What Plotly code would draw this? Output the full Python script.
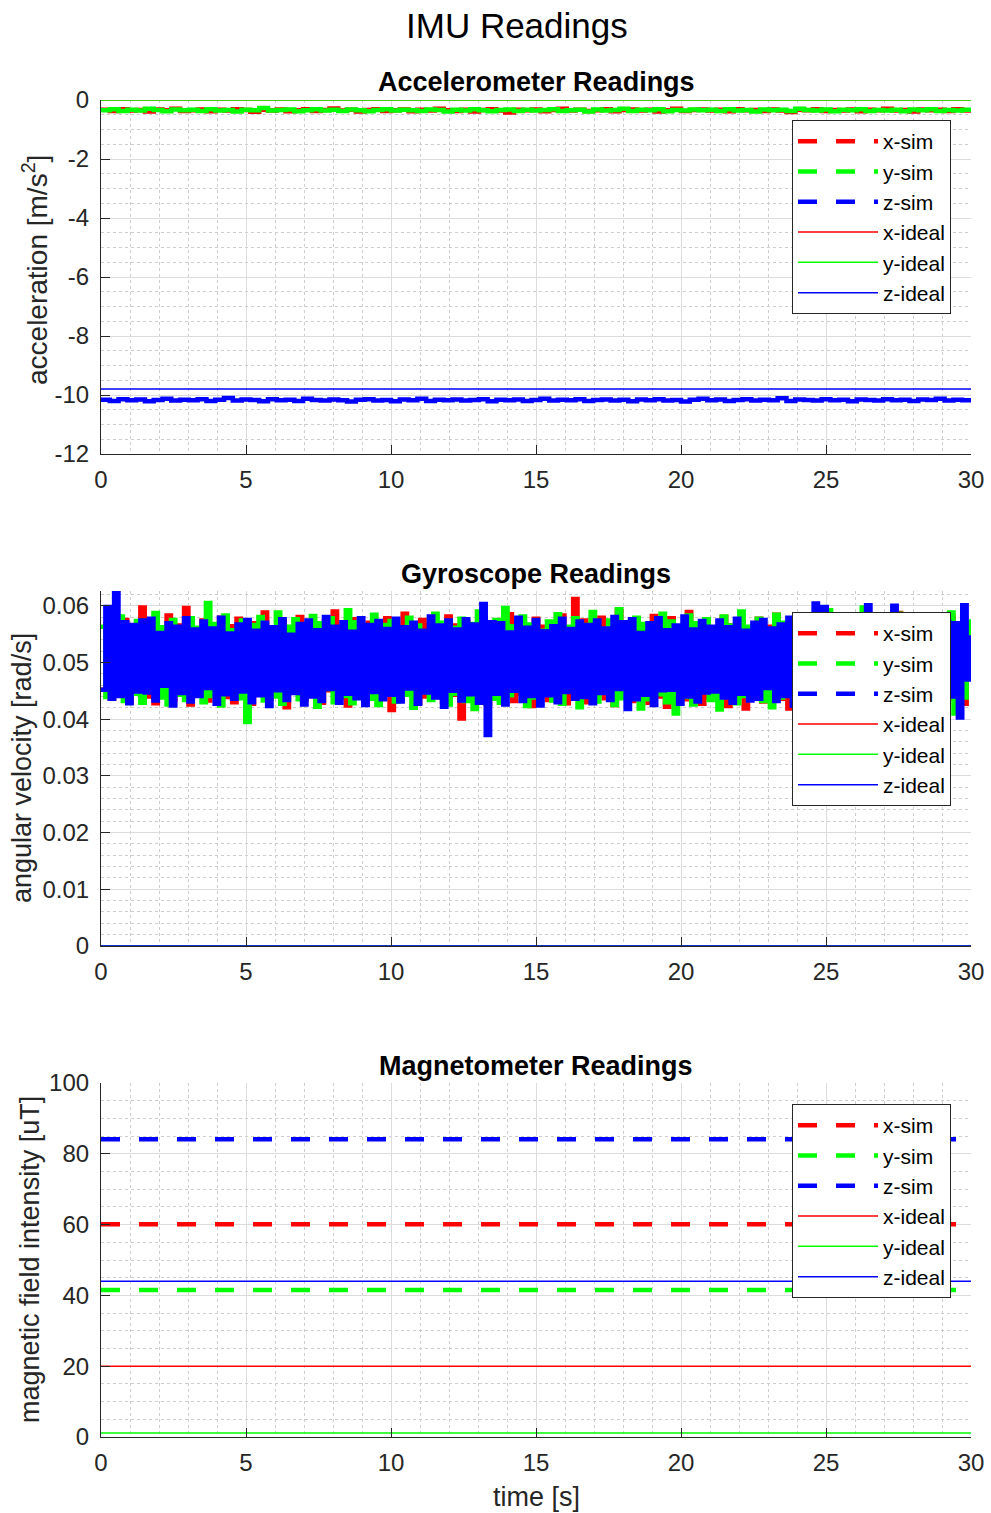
import numpy as np
import plotly.graph_objects as go

# ---------------- data ----------------
T_SPAN = [0.0, 30.0]
AXIS_NAMES = ["x", "y", "z"]

ACC_X_SIM = [
    -0.33, -0.37, -0.31, -0.36, -0.34, -0.39, -0.32, -0.35, -0.30, -0.37,
    -0.35, -0.32, -0.38, -0.33, -0.36, -0.31, -0.34, -0.40, -0.33, -0.36,
    -0.32, -0.38, -0.35, -0.31, -0.37, -0.34, -0.29, -0.36, -0.33, -0.39,
    -0.34, -0.31, -0.37, -0.35, -0.32, -0.38, -0.33, -0.36, -0.30, -0.35,
    -0.37, -0.33, -0.39, -0.34, -0.31, -0.36, -0.42, -0.33, -0.35, -0.32,
    -0.38, -0.34, -0.30, -0.36, -0.33, -0.37, -0.35, -0.31, -0.38, -0.34,
    -0.32, -0.36, -0.33, -0.39, -0.35, -0.30, -0.37, -0.34, -0.32, -0.36,
    -0.33, -0.38, -0.31, -0.35, -0.34, -0.37, -0.32, -0.36, -0.41, -0.33,
    -0.35, -0.31, -0.37, -0.34, -0.36, -0.32, -0.38, -0.33, -0.35, -0.30,
    -0.36, -0.34, -0.39, -0.32, -0.35, -0.33, -0.37, -0.31, -0.36, -0.34,
]
ACC_Y_SIM = [
    -0.35, -0.31, -0.37, -0.33, -0.36, -0.30, -0.34, -0.38, -0.32, -0.35,
    -0.33, -0.37, -0.31, -0.36, -0.34, -0.39, -0.33, -0.35, -0.27, -0.36,
    -0.34, -0.32, -0.38, -0.35, -0.31, -0.36, -0.33, -0.37, -0.32, -0.35,
    -0.38, -0.34, -0.31, -0.36, -0.33, -0.35, -0.37, -0.32, -0.34, -0.39,
    -0.33, -0.36, -0.31, -0.35, -0.38, -0.34, -0.32, -0.37, -0.33, -0.36,
    -0.34, -0.31, -0.37, -0.35, -0.33, -0.39, -0.32, -0.36, -0.34, -0.30,
    -0.37, -0.33, -0.35, -0.31, -0.38, -0.34, -0.36, -0.32, -0.35, -0.33,
    -0.37, -0.31, -0.36, -0.34, -0.39, -0.32, -0.35, -0.33, -0.37, -0.30,
    -0.34, -0.36, -0.32, -0.38, -0.33, -0.35, -0.31, -0.37, -0.34, -0.36,
    -0.33, -0.38, -0.32, -0.35, -0.31, -0.37, -0.34, -0.36, -0.33, -0.35,
]
ACC_Z_SIM = [
    -10.16, -10.20, -10.14, -10.18, -10.15, -10.21, -10.17, -10.13, -10.19, -10.16,
    -10.18, -10.14, -10.20, -10.16, -10.10, -10.19, -10.15, -10.17, -10.21, -10.14,
    -10.18, -10.16, -10.20, -10.13, -10.17, -10.19, -10.15, -10.18, -10.22, -10.16,
    -10.14, -10.19, -10.17, -10.21, -10.15, -10.18, -10.13, -10.20, -10.16, -10.18,
    -10.15, -10.19, -10.17, -10.14, -10.21, -10.16, -10.18, -10.15, -10.20, -10.17,
    -10.13, -10.19, -10.16, -10.18, -10.14, -10.20, -10.17, -10.15, -10.19, -10.16,
    -10.21, -10.15, -10.18, -10.14, -10.19, -10.17, -10.22, -10.16, -10.13, -10.18,
    -10.15, -10.20, -10.17, -10.14, -10.19, -10.16, -10.18, -10.11, -10.20, -10.15,
    -10.17, -10.19, -10.14, -10.18, -10.16, -10.21, -10.15, -10.17, -10.19, -10.14,
    -10.18, -10.16, -10.20, -10.15, -10.17, -10.13, -10.19, -10.16, -10.18, -10.17,
]

GYRO_X_SIM = [
    0.0452, 0.0568, 0.0437, 0.0559, 0.0446, 0.0575, 0.0431, 0.0562, 0.0449, 0.0597,
    0.0440, 0.0571, 0.0428, 0.0556, 0.0453, 0.0583, 0.0435, 0.0565, 0.0444, 0.0596,
    0.0426, 0.0560, 0.0448, 0.0574, 0.0433, 0.0553, 0.0455, 0.0579, 0.0439, 0.0564,
    0.0430, 0.0577, 0.0442, 0.0551, 0.0427, 0.0569, 0.0450, 0.0588, 0.0436, 0.0561,
    0.0445, 0.0572, 0.0421, 0.0558, 0.0449, 0.0580, 0.0434, 0.0566, 0.0443, 0.0555,
    0.0429, 0.0573, 0.0451, 0.0590, 0.0438, 0.0562, 0.0424, 0.0576, 0.0447, 0.0557,
    0.0433, 0.0570, 0.0441, 0.0559, 0.0454, 0.0578, 0.0416, 0.0563, 0.0437, 0.0586,
    0.0446, 0.0554, 0.0429, 0.0575, 0.0440, 0.0567, 0.0452, 0.0558, 0.0431, 0.0581,
    0.0443, 0.0565, 0.0401, 0.0572, 0.0436, 0.0553, 0.0448, 0.0579, 0.0427, 0.0568,
    0.0439, 0.0560, 0.0450, 0.0585, 0.0432, 0.0571, 0.0445, 0.0556, 0.0423, 0.0577,
    0.0452, 0.0563, 0.0434, 0.0570, 0.0441, 0.0583, 0.0428, 0.0561, 0.0612, 0.0447,
    0.0574, 0.0430, 0.0557, 0.0449, 0.0579, 0.0437, 0.0566, 0.0425, 0.0591, 0.0444,
    0.0559, 0.0432, 0.0576, 0.0453, 0.0564, 0.0429, 0.0582, 0.0440, 0.0555, 0.0422,
    0.0578, 0.0446, 0.0562, 0.0435, 0.0589, 0.0451, 0.0568, 0.0427, 0.0573, 0.0438,
    0.0556, 0.0448, 0.0580, 0.0423, 0.0565, 0.0442, 0.0571, 0.0419, 0.0560, 0.0454,
    0.0577, 0.0431, 0.0563, 0.0447, 0.0584, 0.0436, 0.0558, 0.0419, 0.0575, 0.0443,
    0.0567, 0.0428, 0.0553, 0.0450, 0.0579, 0.0434, 0.0569, 0.0441, 0.0561, 0.0426,
    0.0585, 0.0445, 0.0572, 0.0433, 0.0558, 0.0452, 0.0576, 0.0430, 0.0564, 0.0439,
    0.0570, 0.0424, 0.0587, 0.0446, 0.0559, 0.0437, 0.0578, 0.0421, 0.0566, 0.0450,
    0.0553, 0.0432, 0.0574, 0.0444, 0.0580, 0.0435, 0.0568, 0.0427, 0.0560, 0.0512,
]
GYRO_Y_SIM = [
    0.0563, 0.0439, 0.0577, 0.0447, 0.0581, 0.0432, 0.0559, 0.0445, 0.0573, 0.0429,
    0.0565, 0.0451, 0.0587, 0.0438, 0.0562, 0.0426, 0.0575, 0.0443, 0.0556, 0.0434,
    0.0578, 0.0448, 0.0561, 0.0430, 0.0605, 0.0441, 0.0568, 0.0424, 0.0583, 0.0452,
    0.0557, 0.0437, 0.0574, 0.0395, 0.0566, 0.0446, 0.0580, 0.0433, 0.0560, 0.0440,
    0.0588, 0.0427, 0.0563, 0.0449, 0.0576, 0.0435, 0.0555, 0.0444, 0.0582, 0.0422,
    0.0569, 0.0453, 0.0578, 0.0430, 0.0560, 0.0441, 0.0592, 0.0428, 0.0571, 0.0447,
    0.0558, 0.0436, 0.0584, 0.0425, 0.0566, 0.0450, 0.0573, 0.0431, 0.0562, 0.0443,
    0.0579, 0.0420, 0.0565, 0.0448, 0.0554, 0.0434, 0.0586, 0.0439, 0.0570, 0.0426,
    0.0561, 0.0445, 0.0577, 0.0432, 0.0568, 0.0418, 0.0590, 0.0447, 0.0559, 0.0436,
    0.0575, 0.0429, 0.0596, 0.0442, 0.0564, 0.0451, 0.0581, 0.0423, 0.0567, 0.0438,
    0.0556, 0.0446, 0.0572, 0.0433, 0.0585, 0.0427, 0.0563, 0.0449, 0.0578, 0.0421,
    0.0566, 0.0440, 0.0589, 0.0431, 0.0557, 0.0452, 0.0574, 0.0425, 0.0594, 0.0437,
    0.0562, 0.0448, 0.0579, 0.0419, 0.0568, 0.0435, 0.0553, 0.0444, 0.0586, 0.0430,
    0.0572, 0.0410, 0.0560, 0.0439, 0.0583, 0.0426, 0.0569, 0.0450, 0.0576, 0.0434,
    0.0558, 0.0417, 0.0581, 0.0445, 0.0565, 0.0428, 0.0590, 0.0441, 0.0563, 0.0453,
    0.0577, 0.0432, 0.0555, 0.0421, 0.0584, 0.0438, 0.0570, 0.0447, 0.0561, 0.0429,
    0.0579, 0.0443, 0.0567, 0.0434, 0.0573, 0.0450, 0.0592, 0.0426, 0.0560, 0.0439,
    0.0582, 0.0431, 0.0568, 0.0448, 0.0597, 0.0436, 0.0563, 0.0422, 0.0575, 0.0445,
    0.0559, 0.0437, 0.0586, 0.0428, 0.0570, 0.0449, 0.0578, 0.0433, 0.0566, 0.0441,
    0.0583, 0.0425, 0.0571, 0.0446, 0.0588, 0.0410, 0.0564, 0.0438, 0.0572, 0.0489,
]
GYRO_Z_SIM = [
    0.0452, 0.0598, 0.0436, 0.0626, 0.0441, 0.0571, 0.0428, 0.0566, 0.0449, 0.0574,
    0.0447, 0.0577, 0.0433, 0.0552, 0.0459, 0.0569, 0.0424, 0.0563, 0.0446, 0.0578,
    0.0431, 0.0558, 0.0441, 0.0572, 0.0455, 0.0560, 0.0427, 0.0579, 0.0444, 0.0551,
    0.0436, 0.0567, 0.0449, 0.0575, 0.0430, 0.0556, 0.0442, 0.0570, 0.0423, 0.0562,
    0.0451, 0.0576, 0.0434, 0.0549, 0.0446, 0.0568, 0.0426, 0.0574, 0.0440, 0.0557,
    0.0432, 0.0580, 0.0453, 0.0563, 0.0429, 0.0571, 0.0445, 0.0554, 0.0437, 0.0578,
    0.0425, 0.0566, 0.0448, 0.0573, 0.0435, 0.0559, 0.0443, 0.0577, 0.0431, 0.0562,
    0.0454, 0.0570, 0.0427, 0.0556, 0.0447, 0.0581, 0.0438, 0.0565, 0.0422, 0.0574,
    0.0450, 0.0558, 0.0433, 0.0576, 0.0444, 0.0567, 0.0429, 0.0603, 0.0372, 0.0571,
    0.0445, 0.0569, 0.0426, 0.0553, 0.0450, 0.0579, 0.0432, 0.0561, 0.0441, 0.0575,
    0.0424, 0.0555, 0.0442, 0.0564, 0.0430, 0.0577, 0.0448, 0.0559, 0.0436, 0.0572,
    0.0439, 0.0566, 0.0428, 0.0574, 0.0446, 0.0560, 0.0434, 0.0580, 0.0453, 0.0571,
    0.0418, 0.0576, 0.0435, 0.0552, 0.0443, 0.0569, 0.0425, 0.0578, 0.0451, 0.0557,
    0.0452, 0.0565, 0.0427, 0.0581, 0.0440, 0.0558, 0.0431, 0.0573, 0.0447, 0.0563,
    0.0449, 0.0574, 0.0438, 0.0562, 0.0429, 0.0577, 0.0445, 0.0556, 0.0433, 0.0570,
    0.0436, 0.0575, 0.0455, 0.0560, 0.0432, 0.0567, 0.0441, 0.0579, 0.0424, 0.0553,
    0.0427, 0.0568, 0.0439, 0.0604, 0.0434, 0.0598, 0.0446, 0.0571, 0.0428, 0.0564,
    0.0425, 0.0573, 0.0444, 0.0566, 0.0431, 0.0601, 0.0437, 0.0559, 0.0450, 0.0576,
    0.0451, 0.0600, 0.0429, 0.0570, 0.0442, 0.0555, 0.0433, 0.0578, 0.0448, 0.0561,
    0.0436, 0.0567, 0.0431, 0.0572, 0.0440, 0.0569, 0.0403, 0.0601, 0.0470, 0.0548,
]

ACC_IDEAL = [0.0, 0.0, -9.8]
GYRO_IDEAL = [0.0, 0.0, 0.0]
MAG_SIM = [60.1, 41.5, 84.1]
MAG_IDEAL = [20.0, 1.1, 44.0]

X_TICKS = [0, 5, 10, 15, 20, 25, 30]
X_TICK_LABELS = ["0", "5", "10", "15", "20", "25", "30"]
ACC_TICKS = [-12, -10, -8, -6, -4, -2, 0]
ACC_TICK_LABELS = ["-12", "-10", "-8", "-6", "-4", "-2", "0"]
GYRO_TICKS = [0, 0.01, 0.02, 0.03, 0.04, 0.05, 0.06]
GYRO_TICK_LABELS = ["0", "0.01", "0.02", "0.03", "0.04", "0.05", "0.06"]
MAG_TICKS = [0, 20, 40, 60, 80, 100]
MAG_TICK_LABELS = ["0", "20", "40", "60", "80", "100"]

# ---------------- style ----------------
FONT = "Liberation Sans, Arial, Helvetica, sans-serif"
COLORS = ["#ff0000", "#00ff00", "#0000ff"]
AX_COLOR = "#262626"
SIM_W = 4.5
IDEAL_W = 1.5
DASH = "19px,19px"

fig = go.Figure()


def add_panel(idx, sims, ideals, dense):
    xa = "x" if idx == 1 else f"x{idx}"
    ya = "y" if idx == 1 else f"y{idx}"
    leg = "legend" if idx == 1 else f"legend{idx}"
    if dense:
        # legend entries (dashed, as in the original)
        for k in range(3):
            fig.add_trace(go.Scatter(
                x=[None], y=[None], mode="lines", name=f"{AXIS_NAMES[k]}-sim",
                line=dict(color=COLORS[k], width=SIM_W, dash=DASH),
                xaxis=xa, yaxis=ya, legend=leg, hoverinfo="skip"))
        for k in range(3):
            t = np.linspace(T_SPAN[0], T_SPAN[1], len(sims[k]))
            fig.add_trace(go.Scatter(
                x=t, y=sims[k], mode="lines", showlegend=False,
                line=dict(color=COLORS[k], width=SIM_W, shape="hv"),
                xaxis=xa, yaxis=ya, legend=leg))
    else:
        for k in range(3):
            fig.add_trace(go.Scatter(
                x=T_SPAN, y=[sims[k], sims[k]], mode="lines",
                name=f"{AXIS_NAMES[k]}-sim",
                line=dict(color=COLORS[k], width=SIM_W, dash=DASH),
                xaxis=xa, yaxis=ya, legend=leg))
    for k in range(3):
        fig.add_trace(go.Scatter(
            x=T_SPAN, y=[ideals[k], ideals[k]], mode="lines",
            name=f"{AXIS_NAMES[k]}-ideal",
            line=dict(color=COLORS[k], width=IDEAL_W),
            xaxis=xa, yaxis=ya, legend=leg))


add_panel(1, [ACC_X_SIM, ACC_Y_SIM, ACC_Z_SIM], ACC_IDEAL, True)
add_panel(2, [GYRO_X_SIM, GYRO_Y_SIM, GYRO_Z_SIM], GYRO_IDEAL, True)
add_panel(3, MAG_SIM, MAG_IDEAL, False)

# geometry (pixels -> paper)
W, H = 991, 1513
ML, MR, MT, MB = 101, 20, 100, 76
PH = H - MT - MB
PW = W - ML - MR


def py(pix):
    return (H - MB - pix) / PH


def px(pix):
    return (pix - ML) / PW


tickfont = dict(family=FONT, size=24, color=AX_COLOR)


def xaxis(anchor):
    return dict(
        range=[0, 30], tickvals=X_TICKS, ticktext=X_TICK_LABELS,
        ticks="inside", ticklen=9, tickwidth=1, tickcolor=AX_COLOR,
        showline=True, linecolor=AX_COLOR, linewidth=1.2,
        showgrid=True, gridcolor="#dcdcdc", gridwidth=1, zeroline=False,
        minor=dict(dtick=1, tick0=0, showgrid=True, gridcolor="#cdcdcd",
                   griddash="dot", gridwidth=1, ticks=""),
        tickfont=tickfont, anchor=anchor, ticklabelstandoff=4,
        automargin=False,
    )


def yaxis(domain, rng, tv, tt, mdt, anchor):
    return dict(
        domain=domain, range=rng, tickvals=tv, ticktext=tt,
        ticks="inside", ticklen=9, tickwidth=1, tickcolor=AX_COLOR,
        showline=True, linecolor=AX_COLOR, linewidth=1.2,
        showgrid=True, gridcolor="#dcdcdc", gridwidth=1, zeroline=False,
        minor=dict(dtick=mdt, tick0=0, showgrid=True, gridcolor="#cdcdcd",
                   griddash="dot", gridwidth=1, ticks=""),
        tickfont=tickfont, anchor=anchor, ticklabelstandoff=6,
        automargin=False,
    )


legend_common = dict(
    bgcolor="white", bordercolor=AX_COLOR, borderwidth=1,
    font=dict(family=FONT, size=21, color="black"),
    xanchor="right", yanchor="top", x=px(951), itemwidth=80,
    tracegroupgap=0,
)

fig.update_layout(
    width=W, height=H, autosize=False,
    margin=dict(l=ML, r=MR, t=MT, b=MB, autoexpand=False),
    paper_bgcolor="white", plot_bgcolor="white",
    font=dict(family=FONT, color=AX_COLOR),
    xaxis=xaxis("y"),
    yaxis=yaxis([py(454), 1.0], [-12, 0], ACC_TICKS, ACC_TICK_LABELS, 0.5, "x"),
    xaxis2=xaxis("y2"),
    yaxis2=yaxis([py(946), py(591)], [0, 0.0626], GYRO_TICKS, GYRO_TICK_LABELS, 0.002, "x2"),
    xaxis3=xaxis("y3"),
    yaxis3=yaxis([0.0, py(1083)], [0, 100], MAG_TICKS, MAG_TICK_LABELS, 5, "x3"),
    legend=dict(legend_common, y=py(120)),
    legend2=dict(legend_common, y=py(612)),
    legend3=dict(legend_common, y=py(1104)),
    showlegend=True,
)

annotations = [
    dict(text="IMU Readings", x=px(517), y=py(25), font=dict(size=35, color="black")),
    dict(text="<b>Accelerometer Readings</b>", x=0.5, y=py(82), font=dict(size=27, color="black")),
    dict(text="<b>Gyroscope Readings</b>", x=0.5, y=py(574), font=dict(size=27, color="black")),
    dict(text="<b>Magnetometer Readings</b>", x=0.5, y=py(1066), font=dict(size=27, color="black")),
    dict(text="acceleration [m/s<sup>2</sup>]", x=px(35), y=py(270), textangle=-90,
         font=dict(size=28, color=AX_COLOR)),
    dict(text="angular velocity [rad/s]", x=px(22), y=py(768), textangle=-90,
         font=dict(size=27, color=AX_COLOR)),
    dict(text="magnetic field intensity [uT]", x=px(30), y=py(1260), textangle=-90,
         font=dict(size=27, color=AX_COLOR)),
    dict(text="time [s]", x=0.5, y=py(1497), font=dict(size=27, color=AX_COLOR)),
]
for a in annotations:
    a.update(xref="paper", yref="paper", showarrow=False,
             xanchor="center", yanchor="middle")
    a["font"]["family"] = FONT
fig.update_layout(annotations=annotations)

fig.write_html("out.html")
